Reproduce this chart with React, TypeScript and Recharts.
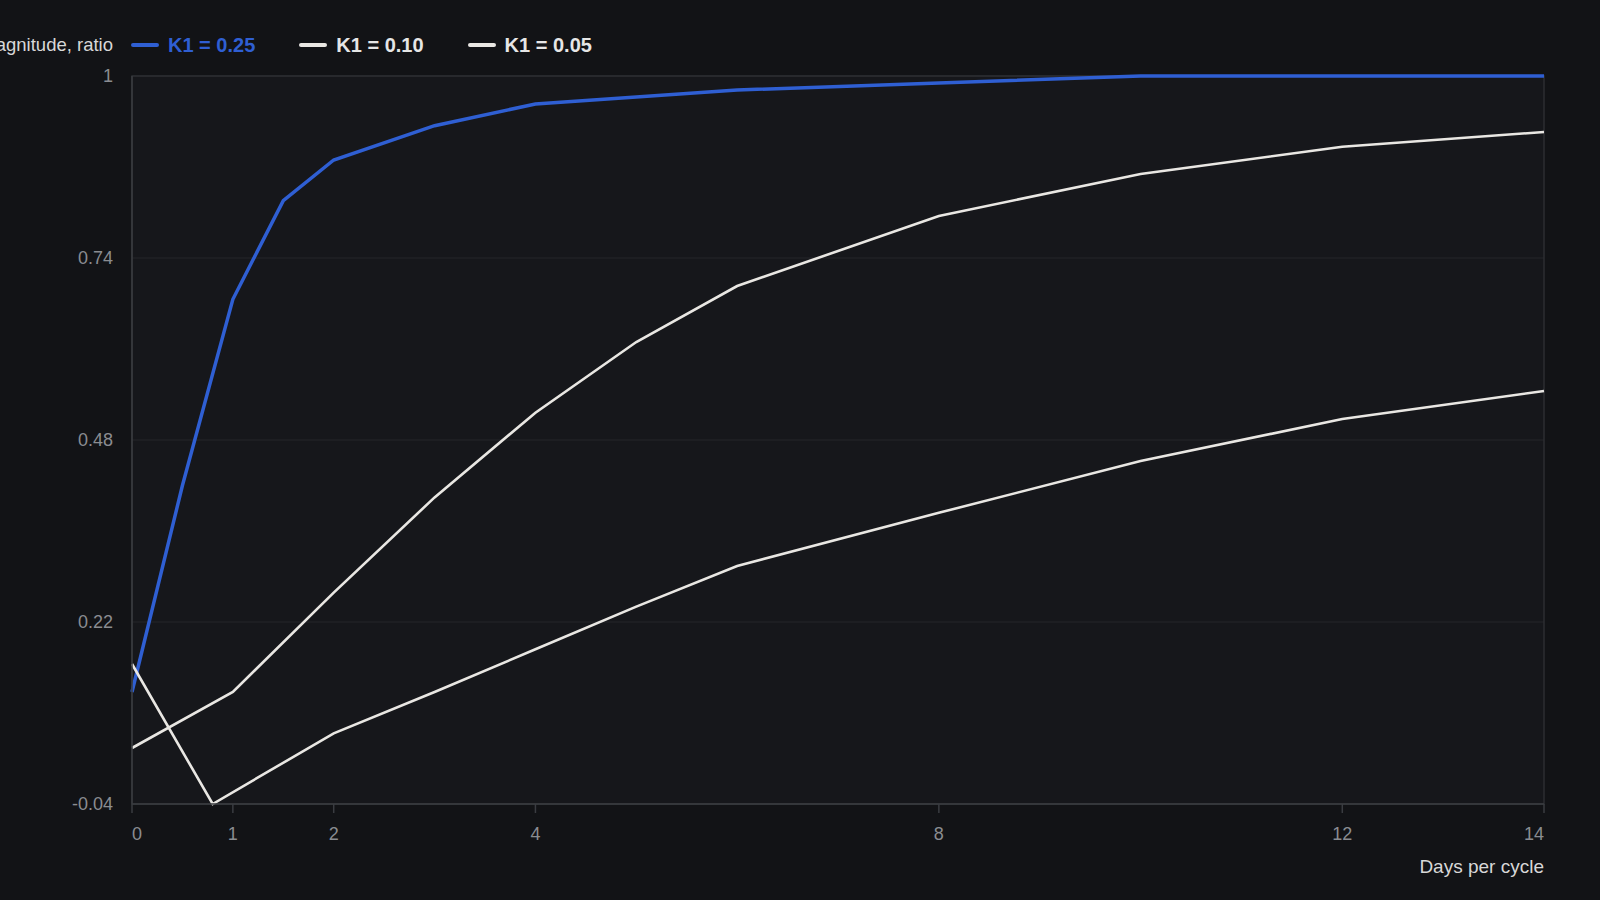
import React from "react";
import {
  LineChart,
  Line,
  XAxis,
  YAxis,
  CartesianGrid,
  Legend,
  ReferenceArea,
} from "recharts";

// Days per cycle (x) for each curve, and magnitude ratio
const daysK025 = [0, 0.5, 1, 1.5, 2, 3, 4, 5, 6, 8, 10, 12, 14];
const magK025 = [0.12, 0.415, 0.681, 0.822, 0.88, 0.929, 0.96, 0.97, 0.98, 0.99, 1, 1, 1];

const daysK010 = [0, 1, 2, 3, 4, 5, 6, 8, 10, 12, 14];
const magK010 = [0.04, 0.12, 0.262, 0.398, 0.519, 0.62, 0.7, 0.8, 0.86, 0.899, 0.92];

const daysK005 = [0, 0.8, 2, 3, 4, 5, 6, 8, 10, 12, 14];
const magK005 = [0.16, -0.04, 0.061, 0.12, 0.181, 0.242, 0.3, 0.376, 0.45, 0.51, 0.55];

const xTicks = [0, 1, 2, 4, 8, 12, 14];
const yTicks = [-0.04, 0.22, 0.48, 0.74, 1];

const FONT = "'Liberation Sans', Arial, sans-serif";
const BG = "#121316";
const PLOT_BG = "#16171b";
const TICK_COLOR = "#8a8c91";
const NAME_COLOR = "#d8d8d8";

const toPoints = (days: number[], vals: number[]) =>
  days.map((d, i) => ({ day: d, value: vals[i] }));

const series = [
  { key: "k025", name: "K1 = 0.25", color: "#2f5fd3", width: 3.5, data: toPoints(daysK025, magK025) },
  { key: "k010", name: "K1 = 0.10", color: "#e9e7e3", width: 2.6, data: toPoints(daysK010, magK010) },
  { key: "k005", name: "K1 = 0.05", color: "#e9e7e3", width: 2.6, data: toPoints(daysK005, magK005) },
];

const LegendRow = () => (
  <div style={{ display: "flex", alignItems: "center", fontFamily: FONT }}>
    {series.map((s, i) => (
      <div
        key={s.key}
        style={{ display: "flex", alignItems: "center", marginLeft: i === 0 ? 0 : 44 }}
      >
        <span
          style={{
            display: "inline-block",
            width: 28,
            height: 4,
            borderRadius: 2,
            background: s.color,
            marginRight: 9,
          }}
        />
        <span
          style={{
            color: i === 0 ? s.color : "#e6e6e6",
            fontSize: 20,
            fontWeight: 700,
            lineHeight: "24px",
          }}
        >
          {s.name}
        </span>
      </div>
    ))}
  </div>
);

const XTick = (props: any) => {
  const { x, y, payload } = props;
  const v = payload.value;
  const anchor = v === xTicks[0] ? "start" : v === xTicks[xTicks.length - 1] ? "end" : "middle";
  return (
    <text
      x={x}
      y={y}
      dy="0.71em"
      textAnchor={anchor}
      fill={TICK_COLOR}
      fontSize={18}
      fontFamily={FONT}
    >
      {v}
    </text>
  );
};

export default function App() {
  return (
    <div
      style={{
        position: "fixed",
        left: 0,
        top: 0,
        width: 1600,
        height: 900,
        background: BG,
        overflow: "hidden",
      }}
    >
      <LineChart
        width={1600}
        height={900}
        margin={{ top: 76, right: 56, left: 32, bottom: 66 }}
      >
        <CartesianGrid
          vertical={false}
          stroke="#25272b"
          fill={PLOT_BG}
          fillOpacity={1}
        />
        <ReferenceArea
          x1={0}
          x2={14}
          y1={-0.04}
          y2={1}
          fill="none"
          stroke="#2c2e32"
          strokeWidth={1.5}
        />
        <XAxis
          dataKey="day"
          type="number"
          domain={[0, 14]}
          ticks={xTicks}
          allowDuplicatedCategory={false}
          height={30}
          stroke="#3a3c41"
          strokeWidth={1.5}
          tickSize={9}
          tickMargin={14}
          tick={<XTick />}
          label={(p: any) => {
            const vb = p.viewBox;
            return (
              <text
                x={vb.x + vb.width}
                y={873}
                textAnchor="end"
                fill={NAME_COLOR}
                fontSize={19}
                fontFamily={FONT}
              >
                Days per cycle
              </text>
            );
          }}
        />
        <YAxis
          type="number"
          domain={[-0.04, 1]}
          ticks={yTicks}
          width={100}
          stroke="#3a3c41"
          strokeWidth={1.5}
          tickLine={false}
          tickSize={12}
          tickMargin={7}
          tick={{ fill: TICK_COLOR, fontSize: 18, fontFamily: FONT }}
          label={(p: any) => {
            const vb = p.viewBox;
            return (
              <text
                x={vb.x + vb.width - 19}
                y={51}
                textAnchor="end"
                fill={NAME_COLOR}
                fontSize={18.5}
                fontFamily={FONT}
              >
                Magnitude, ratio
              </text>
            );
          }}
        />
        <Legend
          layout="horizontal"
          align="center"
          verticalAlign="middle"
          content={<LegendRow />}
          wrapperStyle={{ top: 33, left: 131, width: "auto" }}
        />
        {series.map((s) => (
          <Line
            key={s.key}
            data={s.data}
            dataKey="value"
            name={s.name}
            type="linear"
            stroke={s.color}
            strokeWidth={s.width}
            dot={false}
            activeDot={false}
            isAnimationActive={false}
          />
        ))}
      </LineChart>
    </div>
  );
}
